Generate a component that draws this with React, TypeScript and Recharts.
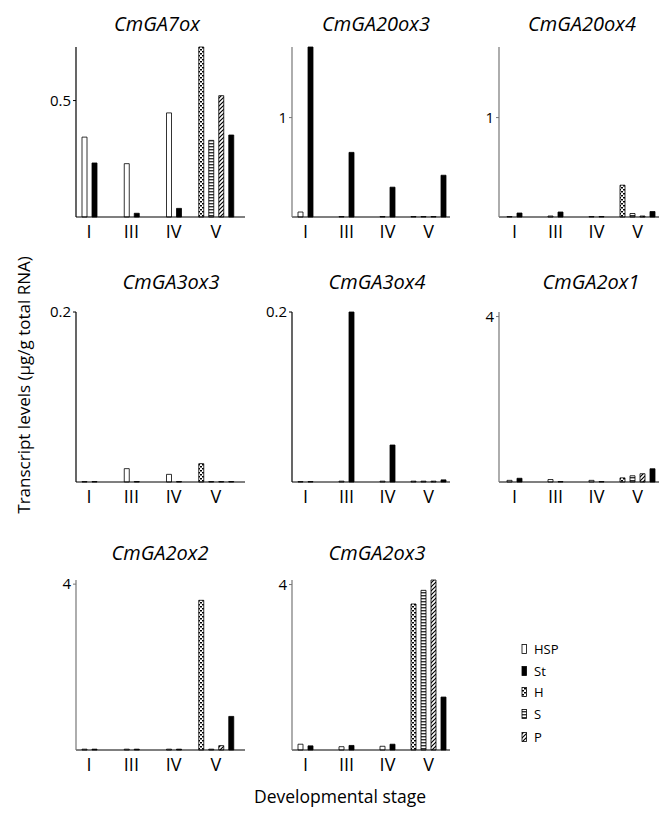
import React from "react";
import { BarChart, Bar, XAxis, YAxis } from "recharts";

const stages = ["I", "III", "IV", "V"];
const genes = [
  "CmGA7ox",
  "CmGA20ox3",
  "CmGA20ox4",
  "CmGA3ox3",
  "CmGA3ox4",
  "CmGA2ox1",
  "CmGA2ox2",
  "CmGA2ox3",
];

// HSP, stages I, III, IV (one row per gene)
const hsp = [
  [0.343, 0.229, 0.447],
  [0.05, 0.005, 0.005],
  [0.005, 0.01, 0.005],
  [0.0005, 0.0157, 0.009],
  [0.0005, 0.001, 0.001],
  [0.04, 0.06, 0.04],
  [0.02, 0.02, 0.02],
  [0.14, 0.08, 0.09],
];
// St, stages I, III, IV, V
const st = [
  [0.232, 0.016, 0.037, 0.352],
  [1.71, 0.65, 0.3, 0.42],
  [0.04, 0.05, 0.005, 0.055],
  [0.0005, 0.0005, 0.0005, 0.0005],
  [0.0005, 0.2, 0.0435, 0.0025],
  [0.09, 0.01, 0.01, 0.32],
  [0.02, 0.02, 0.02, 0.81],
  [0.1, 0.11, 0.14, 1.28],
];
// stage V only
const hV = [0.73, 0.005, 0.32, 0.0216, 0.001, 0.1, 3.61, 3.53];
const sV = [0.329, 0.005, 0.035, 0.0005, 0.001, 0.15, 0.02, 3.86];
const pV = [0.521, 0.005, 0.01, 0.0005, 0.001, 0.2, 0.105, 4.11];

const yMax = [0.73, 1.71, 1.71, 0.2, 0.2, 4.11, 4.1, 4.11];
const yTick = [0.5, 1, 1, 0.2, 0.2, 4, 4, 4];

const legendNames = ["HSP", "St", "H", "S", "P"];

// layout
const FONT = "'Open Sans', sans-serif";
const colX = [76, 292, 499];
const colW = [169, 158, 160];
const colPad = [
  [-8, 8],
  [-7, 1],
  [-5, 1],
];
const rowTop = [47, 311.5, 580];
const PLOT_H = 170;
const Y_W = 30;
const M_TOP = 12;
const titleX = [157, 376, 582, 171, 377, 591, 160, 377];
const titleY = [31, 289, 560];
const axisColor = ["#000", "#777", "#777", "#000", "#000", "#777", "#777", "#777"];

const fills: Record<string, string> = {
  HSP: "#fff",
  St: "#000",
  H: "url(#patH)",
  S: "url(#patS)",
  P: "url(#patP)",
};

function buildRows(g: number) {
  return stages.map((stage, i) =>
    i < 3
      ? { stage, hsp: hsp[g][i], st: st[g][i], h: null, s: null, p: null, stV: null }
      : { stage, hsp: null, st: null, h: hV[g], s: sV[g], p: pV[g], stV: st[g][3] }
  );
}

function Panel({ g }: { g: number }) {
  const col = g % 3;
  const row = Math.floor(g / 3);
  const pad = { left: colPad[col][0], right: colPad[col][1] };
  const bar = { isAnimationActive: false, barSize: 5, stroke: "#000", strokeWidth: 0.8 };
  return (
    <div style={{ position: "absolute", left: colX[col] - Y_W, top: rowTop[row] - M_TOP }}>
      <BarChart
        width={Y_W + colW[col]}
        height={M_TOP + PLOT_H + 30}
        data={buildRows(g)}
        margin={{ top: M_TOP, right: 0, bottom: 0, left: 0 }}
        barGap={5}
      >
        <XAxis
          xAxisId="a"
          dataKey="stage"
          interval={0}
          padding={pad}
          tickLine={false}
          axisLine={{ stroke: "#000", strokeWidth: 1.2 }}
          height={30}
          tick={{ fontSize: 18, fill: "#000", fontFamily: FONT }}
        />
        <XAxis xAxisId="b" dataKey="stage" hide padding={pad} />
        <YAxis
          domain={[0, yMax[g]]}
          ticks={[yTick[g]]}
          interval={0}
          width={Y_W}
          tickSize={3}
          axisLine={{ stroke: axisColor[g], strokeWidth: 1.2 }}
          tickLine={{ stroke: axisColor[g] }}
          tick={{ fontSize: 15, fill: "#000", fontFamily: FONT }}
        />
        <Bar xAxisId="a" dataKey="hsp" fill={fills.HSP} {...bar} />
        <Bar xAxisId="a" dataKey="st" fill={fills.St} {...bar} />
        <Bar xAxisId="b" dataKey="h" fill={fills.H} {...bar} />
        <Bar xAxisId="b" dataKey="s" fill={fills.S} {...bar} />
        <Bar xAxisId="b" dataKey="p" fill={fills.P} {...bar} />
        <Bar xAxisId="b" dataKey="stV" fill={fills.St} {...bar} />
      </BarChart>
    </div>
  );
}

export default function App() {
  return (
    <div
      style={{
        position: "absolute",
        left: 0,
        top: 0,
        width: 665,
        height: 820,
        background: "#fff",
        fontFamily: FONT,
      }}
    >
      <svg
        width={665}
        height={820}
        style={{ position: "absolute", left: 0, top: 0 }}
      >
        <defs>
          <pattern id="patH" width={4} height={4} patternUnits="userSpaceOnUse">
            <rect width={4} height={4} fill="#fff" />
            <rect x={0} y={0} width={2} height={1.5} fill="#000" />
            <rect x={2} y={2} width={2} height={1.5} fill="#000" />
          </pattern>
          <pattern id="patS" width={4} height={3} patternUnits="userSpaceOnUse">
            <rect width={4} height={3} fill="#fff" />
            <rect x={0} y={0} width={4} height={1.4} fill="#333" />
          </pattern>
          <pattern id="patP" width={4} height={4} patternUnits="userSpaceOnUse">
            <rect width={4} height={4} fill="#fff" />
            <path d="M-1,1 L1,-1 M0,4 L4,0 M3,5 L5,3" stroke="#000" strokeWidth={1.2} />
          </pattern>
        </defs>
        {genes.map((name, g) => (
          <text
            key={name}
            x={titleX[g]}
            y={titleY[Math.floor(g / 3)]}
            textAnchor="middle"
            fontSize={20}
            fontStyle="italic"
            fontFamily={FONT}
          >
            {name}
          </text>
        ))}
        <text
          transform="translate(30,385) rotate(-90)"
          textAnchor="middle"
          fontSize={17}
          fontFamily={FONT}
        >
          Transcript levels (μg/g total RNA)
        </text>
        <text x={340} y={803} textAnchor="middle" fontSize={17.5} fontFamily={FONT}>
          Developmental stage
        </text>
        {legendNames.map((n, i) => {
          const cy = [649, 671, 692, 714, 737][i];
          return (
            <g key={n}>
              <rect
                x={522}
                y={cy - 4.5}
                width={4.5}
                height={9}
                fill={fills[n]}
                stroke="#000"
                strokeWidth={0.8}
              />
              <text x={534} y={cy + 4.5} fontSize={13} fontFamily={FONT}>
                {n}
              </text>
            </g>
          );
        })}
      </svg>
      {genes.map((name, g) => (
        <Panel key={name} g={g} />
      ))}
    </div>
  );
}
